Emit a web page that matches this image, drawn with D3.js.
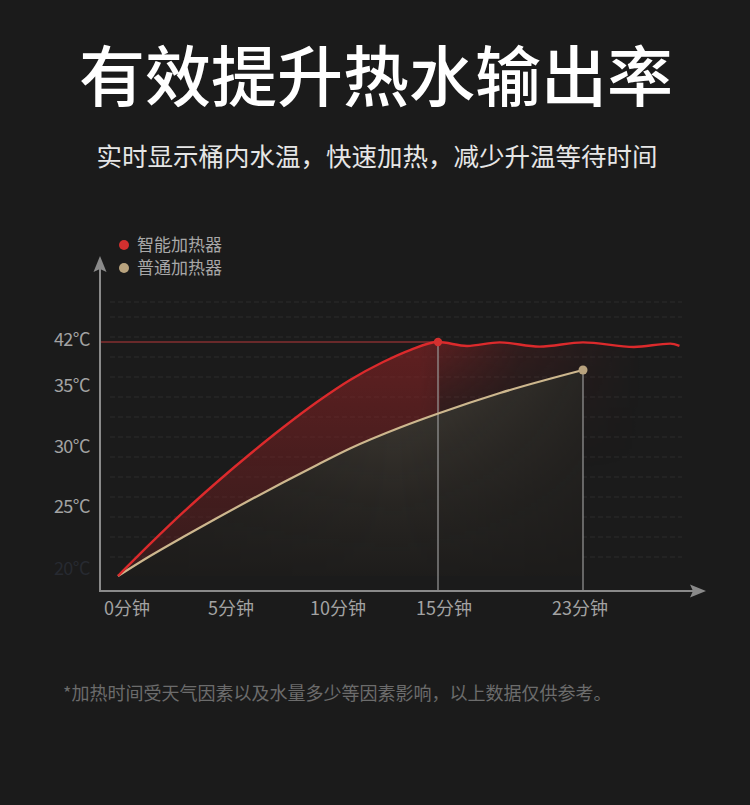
<!DOCTYPE html>
<html><head><meta charset="utf-8">
<script src="https://cdn.jsdelivr.net/npm/d3@7/dist/d3.min.js"></script>
<style>
html,body{margin:0;padding:0;background:#1b1b1b;}
svg{display:block;font-family:"Noto Sans CJK SC","Noto Sans",sans-serif;}
</style></head>
<body>
<svg id="chart" width="750" height="805"></svg>
<script>
// ---- data ----
const title = "有效提升热水输出率";
const subtitle = "实时显示桶内水温，快速加热，减少升温等待时间";
const footnote = "*加热时间受天气因素以及水量多少等因素影响，以上数据仅供参考。";
const seriesNames = ["智能加热器", "普通加热器"];
const xTicks = [0, 5, 10, 15, 23];
const xTickLabels = ["0分钟", "5分钟", "10分钟", "15分钟", "23分钟"];
const yTicks = [20, 25, 30, 35, 42];
const yTickLabels = ["20°C", "25°C", "30°C", "35°C", "42°C"];
// smart heater: minutes, °C
const smartTime = [0, 1.5, 3.04, 4.63, 6.17, 7.71, 9.3, 10.85, 12.41, 13.68, 15, 16.6, 18.4, 20.6, 23, 25.8, 27.8, 28.3];
const smartTemp = [20, 22.39, 24.74, 27.25, 29.58, 31.76, 33.85, 36.22, 38.96, 40.78, 42, 41.4, 41.95, 41.3, 41.95, 41.25, 41.75, 41.4];
// ordinary heater
const normalTime = [0, 1.5, 3.04, 4.63, 6.17, 7.71, 9.3, 10.85, 13.21, 15.09, 18.42, 23];
const normalTemp = [20, 21.49, 22.91, 24.33, 25.75, 27.21, 28.67, 30.04, 31.76, 32.95, 34.59, 37.74];
const smartPeak = 15;   // minute the smart heater reaches 42°C
const normalEnd = 23;   // minute the ordinary heater stops

// ---- layout ----
const svg = d3.select("#chart");
const W = 750, H = 805;
const axisX = 100, axisY = 591;
const colors = {red: "#dc2a2c", beige: "#cdb78e", redDot: "#d3302f", beigeDot: "#b9a37e", axis: "#8a8a8a", label: "#a3a3a3"};

const x = d3.scaleLinear().domain([0, 5, 10, 15, 23, 28]).range([118, 225, 332, 438, 583, 674]);
const y = d3.scaleLinear().domain([20, 25, 30, 35, 42]).range([576, 509, 449, 388, 342]);

svg.append("rect").attr("width", W).attr("height", H).attr("fill", "#1b1b1b");

// titles
svg.append("text").attr("x", W / 2 + 1).attr("y", 101).attr("text-anchor", "middle")
  .attr("fill", "#ffffff").attr("font-size", 66).attr("font-weight", 500).text(title);
svg.append("text").attr("x", W / 2 + 2).attr("y", 166).attr("text-anchor", "middle")
  .attr("fill", "#e6e6e6").attr("font-size", 25.5).text(subtitle);
svg.append("text").attr("x", 63).attr("y", 700).attr("text-anchor", "start")
  .attr("fill", "#6c6c6c").attr("font-size", 18).text(footnote);

// defs
const defs = svg.append("defs");
const gRed = defs.append("linearGradient").attr("id", "gRed").attr("gradientUnits", "userSpaceOnUse")
  .attr("x1", 0).attr("y1", 340).attr("x2", 0).attr("y2", 580);
gRed.append("stop").attr("offset", 0).attr("stop-color", "#9a2426").attr("stop-opacity", 0.55);
gRed.append("stop").attr("offset", 1).attr("stop-color", "#6a1e20").attr("stop-opacity", 0.35);
const mRedG = defs.append("linearGradient").attr("id", "mRedG").attr("gradientUnits", "userSpaceOnUse")
  .attr("x1", 420).attr("y1", 0).attr("x2", 640).attr("y2", 0);
mRedG.append("stop").attr("offset", 0).attr("stop-color", "#fff");
mRedG.append("stop").attr("offset", 0.45).attr("stop-color", "#555");
mRedG.append("stop").attr("offset", 1).attr("stop-color", "#000");
defs.append("mask").attr("id", "mRed").attr("maskUnits", "userSpaceOnUse")
  .append("rect").attr("x", 0).attr("y", 0).attr("width", W).attr("height", H).attr("fill", "url(#mRedG)");
// vertical fade for the part right of the 15-minute line
const mRedV = defs.append("linearGradient").attr("id", "mRedVG").attr("gradientUnits", "userSpaceOnUse")
  .attr("x1", 0).attr("y1", 345).attr("x2", 0).attr("y2", 470);
mRedV.append("stop").attr("offset", 0).attr("stop-color", "#fff");
mRedV.append("stop").attr("offset", 1).attr("stop-color", "#000");
const mV = defs.append("mask").attr("id", "mRedV").attr("maskUnits", "userSpaceOnUse");
mV.append("rect").attr("x", 0).attr("y", 0).attr("width", 440).attr("height", H).attr("fill", "#fff");
mV.append("rect").attr("x", 440).attr("y", 0).attr("width", W - 440).attr("height", H).attr("fill", "url(#mRedVG)");

const gBeige = defs.append("linearGradient").attr("id", "gBeige").attr("gradientUnits", "userSpaceOnUse")
  .attr("x1", 0).attr("y1", 380).attr("x2", 0).attr("y2", 585);
gBeige.append("stop").attr("offset", 0).attr("stop-color", "#c8b496").attr("stop-opacity", 0.22);
gBeige.append("stop").attr("offset", 0.6).attr("stop-color", "#a8967c").attr("stop-opacity", 0.08);
gBeige.append("stop").attr("offset", 1).attr("stop-color", "#a8967c").attr("stop-opacity", 0.0);
const mBeigeG = defs.append("linearGradient").attr("id", "mBeigeG").attr("gradientUnits", "userSpaceOnUse")
  .attr("x1", 120).attr("y1", 0).attr("x2", 620).attr("y2", 0);
mBeigeG.append("stop").attr("offset", 0).attr("stop-color", "#555");
mBeigeG.append("stop").attr("offset", 0.55).attr("stop-color", "#fff");
mBeigeG.append("stop").attr("offset", 1).attr("stop-color", "#222");
defs.append("mask").attr("id", "mBeige").attr("maskUnits", "userSpaceOnUse")
  .append("rect").attr("x", 0).attr("y", 0).attr("width", W).attr("height", H).attr("fill", "url(#mBeigeG)");

// grid lines (decorative, evenly spaced)
const gridYs = [302, 317].concat(d3.range(337, 560, 20));
svg.append("g").selectAll("line").data(gridYs).join("line")
  .attr("x1", 110).attr("x2", 682).attr("y1", d => d).attr("y2", d => d)
  .attr("stroke", "#2d2d2d").attr("stroke-width", 1).attr("stroke-dasharray", "5,3");

// data
const smart = smartTime.map((t, i) => ({t, v: smartTemp[i]}));
const normal = normalTime.map((t, i) => ({t, v: normalTemp[i]}));
const baseY = y(20);

const line = d3.line().x(d => x(d.t)).y(d => y(d.v)).curve(d3.curveMonotoneX);
const area = d3.area().x(d => x(d.t)).y0(baseY).y1(d => y(d.v)).curve(d3.curveMonotoneX);

// red fill
svg.append("g").attr("mask", "url(#mRedV)")
  .append("path").attr("d", area(smart)).attr("fill", "url(#gRed)").attr("mask", "url(#mRed)");
// cover + beige fill
svg.append("path").attr("d", area(normal)).attr("fill", "#1d1c1b");
svg.append("path").attr("d", area(normal)).attr("fill", "url(#gBeige)").attr("mask", "url(#mBeige)");

// reference lines
svg.append("line").attr("x1", axisX).attr("x2", x(smartPeak)).attr("y1", y(42)).attr("y2", y(42))
  .attr("stroke", "#b8383a").attr("stroke-width", 1.2);
svg.append("line").attr("x1", x(smartPeak)).attr("x2", x(smartPeak)).attr("y1", y(42)).attr("y2", axisY)
  .attr("stroke", "#9a9a9a").attr("stroke-width", 1.2);
const normalEndVal = normalTemp[normalTemp.length - 1];
svg.append("line").attr("x1", x(normalEnd)).attr("x2", x(normalEnd)).attr("y1", y(normalEndVal)).attr("y2", axisY)
  .attr("stroke", "#9a9a9a").attr("stroke-width", 1.2);

// lines
svg.append("path").attr("d", line(normal)).attr("fill", "none").attr("stroke", colors.beige).attr("stroke-width", 2.2);
svg.append("path").attr("d", line(smart)).attr("fill", "none").attr("stroke", colors.red).attr("stroke-width", 2.4);

// dots
svg.append("circle").attr("cx", x(smartPeak)).attr("cy", y(42)).attr("r", 4.2).attr("fill", colors.redDot);
svg.append("circle").attr("cx", x(normalEnd)).attr("cy", y(normalEndVal)).attr("r", 4.5).attr("fill", colors.beigeDot);

// axes
svg.append("line").attr("x1", axisX).attr("x2", axisX).attr("y1", axisY).attr("y2", 268)
  .attr("stroke", colors.axis).attr("stroke-width", 2);
svg.append("path").attr("d", d3.line()([[axisX, 256], [axisX - 6.5, 272], [axisX, 269], [axisX + 6.5, 272]]) + "Z")
  .attr("fill", colors.axis);
svg.append("line").attr("x1", axisX - 1).attr("x2", 695).attr("y1", axisY).attr("y2", axisY)
  .attr("stroke", colors.axis).attr("stroke-width", 2);
svg.append("path").attr("d", d3.line()([[706, axisY], [690, axisY - 6.5], [693, axisY], [690, axisY + 6.5]]) + "Z")
  .attr("fill", colors.axis);

// x tick labels
const labelDx = t => t === 0 ? 9 : (t === 23 ? -3 : 6);
svg.append("g").selectAll("text").data(xTicks).join("text")
  .attr("x", d => x(d) + labelDx(d)).attr("y", 615).attr("text-anchor", "middle")
  .attr("fill", colors.label).attr("font-size", 18).text((d, i) => xTickLabels[i]);

// y tick labels
svg.append("g").selectAll("text").data(yTicks).join("text")
  .attr("x", 90).attr("y", d => (d === 20 ? y(d) - 1 : y(d) + 4)).attr("text-anchor", "end")
  .attr("fill", d => d === 20 ? "#272a31" : colors.label).attr("font-size", 18)
  .attr("letter-spacing", -0.5).text((d, i) => yTickLabels[i]);

// legend
const lg = svg.append("g").selectAll("g").data(seriesNames).join("g")
  .attr("transform", (d, i) => `translate(124, ${245 + i * 23})`);
lg.append("circle").attr("r", 5).attr("fill", (d, i) => i === 0 ? colors.redDot : colors.beigeDot);
lg.append("text").attr("x", 13).attr("y", 6).attr("fill", "#a8a8a8").attr("font-size", 17).text(d => d);
</script>
</body></html>
